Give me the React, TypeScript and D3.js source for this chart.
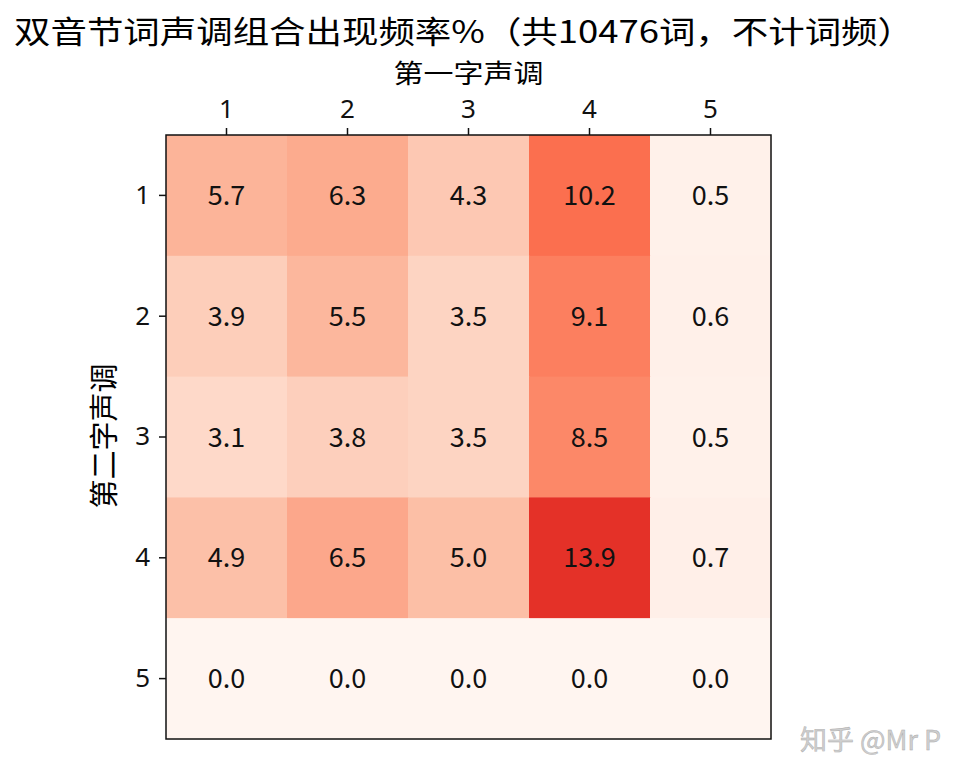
import * as d3 from 'd3';
import { useEffect, useRef } from 'react';

// tone of first syllable (columns) and second syllable (rows)
const firstTones = ['1', '2', '3', '4', '5'];
const secondTones = ['1', '2', '3', '4', '5'];
// percentages, one array per second-syllable tone
const row1 = [5.7, 6.3, 4.3, 10.2, 0.5];
const row2 = [3.9, 5.5, 3.5, 9.1, 0.6];
const row3 = [3.1, 3.8, 3.5, 8.5, 0.5];
const row4 = [4.9, 6.5, 5.0, 13.9, 0.7];
const row5 = [0.0, 0.0, 0.0, 0.0, 0.0];
const rows = [row1, row2, row3, row4, row5];

const title = '双音节词声调组合出现频率%（共10476词，不计词频）';
const xTitle = '第一字声调';
const yTitle = '第二字声调';

// matplotlib "Reds" stops
const reds = ['#fff5f0', '#fee0d2', '#fcbba1', '#fc9272', '#fb6a4a', '#ef3b2c', '#cb181d', '#a50f15', '#67000d'];

export default function App() {
  const ref = useRef<SVGSVGElement | null>(null);

  useEffect(() => {
    document.body.style.margin = '0';
    const svg = d3.select(ref.current);
    svg.selectAll('*').remove();
    const font = '"Noto Sans CJK SC", "Noto Sans", sans-serif';
    const digits = '"Noto Sans", sans-serif';

    const left = 166, right = 771, top = 135, bottom = 739;
    const x = d3.scaleBand().domain(firstTones).range([left, right]);
    const y = d3.scaleBand().domain(secondTones).range([top, bottom]);
    const vmax = 21;
    const color = d3
      .scaleLinear<string>()
      .domain(reds.map((_, i) => (i / (reds.length - 1)) * vmax))
      .range(reds)
      .interpolate(d3.interpolateRgb)
      .clamp(true);

    const cells = rows.flatMap((r, i) => r.map((v, j) => ({ row: secondTones[i], col: firstTones[j], v })));

    svg
      .append('g')
      .selectAll('rect')
      .data(cells)
      .enter()
      .append('rect')
      .attr('x', (d) => x(d.col)!)
      .attr('y', (d) => y(d.row)!)
      .attr('width', x.bandwidth() + 0.5)
      .attr('height', y.bandwidth() + 0.5)
      .attr('fill', (d) => color(d.v));

    svg
      .append('g')
      .selectAll('text')
      .data(cells)
      .enter()
      .append('text')
      .attr('x', (d) => x(d.col)! + x.bandwidth() / 2)
      .attr('y', (d) => y(d.row)! + y.bandwidth() / 2 - 2)
      .attr('text-anchor', 'middle')
      .attr('dominant-baseline', 'central')
      .attr('font-family', font)
      .attr('font-size', 27)
      .attr('fill', '#111')
      .text((d) => d.v.toFixed(1));

    svg
      .append('rect')
      .attr('x', left)
      .attr('y', top)
      .attr('width', right - left)
      .attr('height', bottom - top)
      .attr('fill', 'none')
      .attr('stroke', '#111')
      .attr('stroke-width', 1.5);

    const ax = svg
      .append('g')
      .attr('transform', `translate(0,${top})`)
      .call(d3.axisTop(x).tickSize(7).tickPadding(10));
    const ay = svg
      .append('g')
      .attr('transform', `translate(${left},0)`)
      .call(d3.axisLeft(y).tickSize(7).tickPadding(9));
    [ax, ay].forEach((a) => {
      a.select('.domain').remove();
      a.selectAll('line').attr('stroke', '#111').attr('stroke-width', 1.5);
      a.selectAll('text').attr('font-family', digits).attr('font-size', 26).attr('fill', '#111');
    });

    svg
      .append('text')
      .attr('x', 14)
      .attr('y', 43)
      .attr('font-family', font)
      .attr('font-size', 31)
      .attr('textLength', 900)
      .attr('lengthAdjust', 'spacingAndGlyphs')
      .attr('fill', '#000')
      .text(title);

    svg
      .append('text')
      .attr('x', (left + right) / 2)
      .attr('y', 83)
      .attr('text-anchor', 'middle')
      .attr('font-family', font)
      .attr('font-size', 26)
      .attr('textLength', 150)
      .attr('lengthAdjust', 'spacingAndGlyphs')
      .attr('fill', '#000')
      .text(xTitle);

    svg
      .append('text')
      .attr('transform', `translate(115,${(top + bottom) / 2 - 1}) rotate(-90)`)
      .attr('text-anchor', 'middle')
      .attr('font-family', font)
      .attr('font-size', 29)
      .attr('fill', '#000')
      .text(yTitle);

    svg
      .append('text')
      .attr('x', 800)
      .attr('y', 750)
      .attr('font-family', font)
      .attr('font-size', 27)
      .attr('fill', '#cfcfcf')
      .attr('stroke', '#a8a8a8')
      .attr('stroke-width', 0.4)
      .text('知乎 @Mr P');
  }, []);

  return <svg ref={ref} width={980} height={780} style={{ display: 'block', background: '#fff' }} />;
}
